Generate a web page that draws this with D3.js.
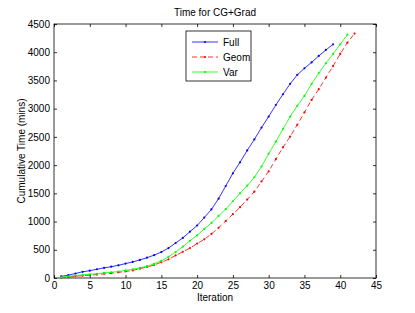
<!DOCTYPE html>
<html>
<head>
<meta charset="utf-8">
<script src="https://cdn.jsdelivr.net/npm/d3@7/dist/d3.min.js"></script>
<style>
  body { margin: 0; background: #fff; }
  svg { display: block; font-family: "Liberation Sans", Arial, sans-serif; }
</style>
</head>
<body>
<svg id="chart" width="415" height="313"></svg>
<script>
// values (cumulative minutes per iteration)
var fullTimes = [30, 50, 80, 110, 130, 155, 180, 200, 225, 255, 285, 320, 360, 405, 460, 530, 620, 710, 820, 930,
  1070, 1215, 1405, 1630, 1855, 2050, 2260, 2455, 2665, 2860, 3065, 3255, 3440, 3600, 3715, 3820, 3935, 4040, 4140];
var geomTimes = [5, 15, 30, 40, 50, 60, 75, 85, 100, 115, 135, 165, 195, 230, 280, 330, 400, 465, 530, 610,
  685, 780, 890, 1010, 1130, 1255, 1390, 1530, 1710, 1890, 2105, 2315, 2505, 2715, 2935, 3155, 3345, 3550, 3755, 3970,
  4170, 4330];
var varTimes = [10, 30, 45, 55, 65, 75, 90, 100, 115, 135, 155, 180, 210, 250, 305, 375, 460, 555, 660, 755,
  870, 975, 1100, 1220, 1360, 1500, 1635, 1785, 1975, 2200, 2415, 2640, 2860, 3050, 3225, 3440, 3630, 3805, 3970, 4140,
  4310];
var seriesNames = ['Full', 'Geom', 'Var'];
var xTicks = [0, 5, 10, 15, 20, 25, 30, 35, 40, 45];
var yTicks = [0, 500, 1000, 1500, 2000, 2500, 3000, 3500, 4000, 4500];

var series = [
  {name: seriesNames[0], values: fullTimes, color: '#0000ff', dash: null},
  {name: seriesNames[1], values: geomTimes, color: '#ff0000', dash: '5,3'},
  {name: seriesNames[2], values: varTimes, color: '#00ff00', dash: null}
];

var svg = d3.select('#chart');
var margin = {top: 24, right: 39, bottom: 35, left: 54},
  width = +svg.attr('width') - margin.left - margin.right,
  height = +svg.attr('height') - margin.top - margin.bottom;

var x = d3.scaleLinear().domain([0, 45]).range([0, width]);
var y = d3.scaleLinear().domain([0, 4500]).range([height, 0]);

var g = svg.append('g')
  .attr('transform', 'translate(' + margin.left + ',' + margin.top + ')');

// matlab style: ticks inward on all four sides
function styleAxis(sel) {
  sel.select('.domain').remove();
  sel.selectAll('line').attr('stroke', '#000').attr('stroke-width', 0.8);
  sel.selectAll('text').attr('fill', '#000').style('font-size', '10px');
}

g.append('g')
  .attr('transform', 'translate(0,' + height + ')')
  .call(d3.axisBottom(x).tickValues(xTicks).tickSize(-3).tickPadding(4))
  .call(styleAxis);
g.append('g')
  .call(d3.axisTop(x).tickValues(xTicks).tickSize(-3).tickFormat(''))
  .call(styleAxis);
g.append('g')
  .call(d3.axisLeft(y).tickValues(yTicks).tickSize(-3).tickPadding(4).tickFormat(d3.format('d')))
  .call(styleAxis);
g.append('g')
  .attr('transform', 'translate(' + width + ',0)')
  .call(d3.axisRight(y).tickValues(yTicks).tickSize(-3).tickFormat(''))
  .call(styleAxis);

g.append('rect')
  .attr('width', width)
  .attr('height', height)
  .attr('fill', 'none')
  .attr('stroke', '#000')
  .attr('stroke-width', 0.8);

var line = d3.line()
  .x(function(d, i) { return x(i + 1); })
  .y(function(d) { return y(d); });

series.forEach(function(s) {
  var grp = g.append('g');
  grp.append('path')
    .attr('d', line(s.values))
    .attr('fill', 'none')
    .attr('stroke', s.color)
    .attr('stroke-width', 0.8)
    .attr('stroke-dasharray', s.dash);
  grp.selectAll('circle')
    .data(s.values)
    .enter()
    .append('circle')
    .attr('cx', function(d, i) { return x(i + 1); })
    .attr('cy', function(d) { return y(d); })
    .attr('r', 1.1)
    .attr('fill', s.color);
});

// legend
var legend = g.append('g')
  .attr('transform', 'translate(' + (186 - margin.left) + ',' + (31 - margin.top) + ')');
legend.append('rect')
  .attr('width', 65)
  .attr('height', 50)
  .attr('fill', '#fff')
  .attr('stroke', '#000')
  .attr('stroke-width', 0.8);
series.forEach(function(s, i) {
  var yy = 11 + i * 15;
  legend.append('line')
    .attr('x1', 6).attr('x2', 32)
    .attr('y1', yy).attr('y2', yy)
    .attr('stroke', s.color)
    .attr('stroke-width', 0.8)
    .attr('stroke-dasharray', s.dash);
  legend.append('circle')
    .attr('cx', 19).attr('cy', yy).attr('r', 1.1)
    .attr('fill', s.color);
  legend.append('text')
    .attr('x', 37).attr('y', yy + 3.5)
    .style('font-size', '10px')
    .text(s.name);
});

// titles
svg.append('text')
  .attr('x', margin.left + width / 2)
  .attr('y', 16)
  .attr('text-anchor', 'middle')
  .style('font-size', '10px')
  .text('Time for CG+Grad');
svg.append('text')
  .attr('x', margin.left + width / 2)
  .attr('y', 301)
  .attr('text-anchor', 'middle')
  .style('font-size', '10px')
  .text('Iteration');
svg.append('text')
  .attr('transform', 'translate(25,' + (margin.top + height / 2) + ') rotate(-90)')
  .attr('text-anchor', 'middle')
  .style('font-size', '10px')
  .text('Cumulative Time (mins)');
</script>
</body>
</html>
